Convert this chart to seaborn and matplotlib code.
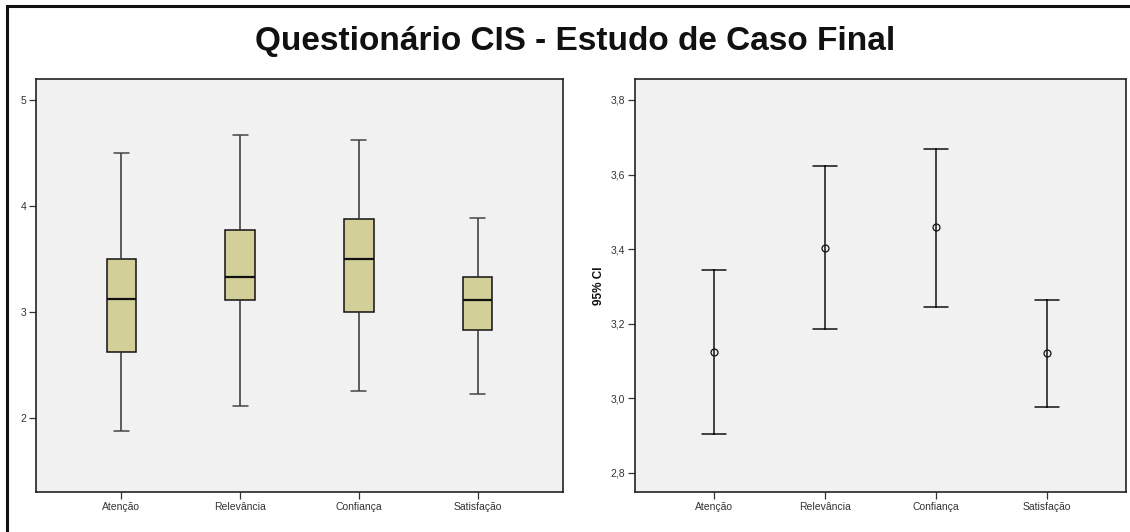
import numpy as np
import pandas as pd
import seaborn as sns
import matplotlib
matplotlib.use("Agg")
import matplotlib.pyplot as plt
from matplotlib.patches import Rectangle
from matplotlib.ticker import FuncFormatter, FixedLocator

# Scales of the questionnaire
categories = ["Atenção", "Relevância", "Confiança", "Satisfação"]

# Box plot summary per scale (min, quartiles, max)
box_min = [1.875, 2.111, 2.250, 2.222]
box_q1 = [2.625, 3.111, 3.000, 2.833]
box_med = [3.125, 3.333, 3.500, 3.111]
box_q3 = [3.500, 3.778, 3.875, 3.333]
box_max = [4.500, 4.667, 4.625, 3.889]

# Mean and 95% confidence interval per scale
ci_mean = [3.124, 3.404, 3.458, 3.121]
ci_low = [2.904, 3.185, 3.246, 2.977]
ci_high = [3.344, 3.622, 3.669, 3.264]

left_ticks = [2, 3, 4, 5]
right_ticks = [2.8, 3.0, 3.2, 3.4, 3.6, 3.8]

sns.set_theme(style="white")
plt.rcParams["font.family"] = ["Liberation Sans", "DejaVu Sans"]

# Five summary points per scale reproduce the quartiles exactly
box_df = pd.DataFrame({
    "escala": np.repeat(categories, 5),
    "valor": np.column_stack([box_min, box_q1, box_med, box_q3, box_max]).ravel(),
})
ci_df = pd.DataFrame({
    "escala": np.repeat(categories, 3),
    "valor": np.column_stack([ci_low, ci_mean, ci_high]).ravel(),
})

W, H = 1130, 532
fig = plt.figure(figsize=(W / 100, H / 100), dpi=100)
fig.patch.set_facecolor("white")

ax1 = fig.add_axes([36 / W, 1 - 492 / H, 527 / W, 413 / H])
ax2 = fig.add_axes([635 / W, 1 - 492 / H, 491 / W, 413 / H])

panel_bg = "#F0F1F0"
spine_col = "#222222"
tick_col = "#333333"

sns.boxplot(
    data=box_df, x="escala", y="valor", order=categories, ax=ax1,
    color="#D3CF98", saturation=1, width=0.25, whis=(0, 100),
    linecolor="#111111", linewidth=1.1,
    medianprops={"linewidth": 1.6, "color": "#111111"},
    whiskerprops={"color": "#333333"}, capprops={"color": "#444444"},
)

sns.pointplot(
    data=ci_df, x="escala", y="valor", order=categories, ax=ax2,
    estimator="median", errorbar=lambda v: (v.min(), v.max()),
    linestyle="none", marker="o", markersize=5,
    markerfacecolor="none", markeredgecolor="#111111", markeredgewidth=0.9,
    color="#111111", capsize=0.22, err_kws={"linewidth": 1.1},
)

comma = FuncFormatter(lambda v, p: f"{v:.1f}".replace(".", ","))

for ax in (ax1, ax2):
    ax.set_facecolor(panel_bg)
    for s in ax.spines.values():
        s.set_visible(True)
        s.set_color(spine_col)
        s.set_linewidth(1.2)
    ax.set_xlabel("")
    ax.set_ylabel("")
    ax.tick_params(axis="both", which="major", direction="out", length=5,
                   width=0.9, color=tick_col, labelsize=7.5,
                   labelcolor="#333333", pad=2, bottom=True, left=True)

ax1.set_xlim(-0.72, 3.72)
ax1.set_ylim(1.30, 5.20)
ax1.yaxis.set_major_locator(FixedLocator(left_ticks))
ax1.set_yticklabels([str(t) for t in left_ticks])

ax2.set_xlim(-0.71, 3.71)
ax2.set_ylim(2.749, 3.856)
ax2.yaxis.set_major_locator(FixedLocator(right_ticks))
ax2.yaxis.set_major_formatter(comma)
ax2.set_ylabel("95% CI", fontsize=8.5, fontweight="bold", color="#111111", labelpad=4)

fig.text(0.509, 0.922, "Questionário CIS - Estudo de Caso Final",
         ha="center", va="center", fontsize=24, fontweight="bold",
         family=["Liberation Sans Narrow", "Liberation Sans", "DejaVu Sans"],
         color="#111111")

# Frame around the whole graphic
fig.add_artist(Rectangle((7 / W, -0.1), 1.2, 0.1 + 1 - 6 / H,
                         transform=fig.transFigure, fill=False,
                         edgecolor="#111111", linewidth=2.2))

fig.savefig("out.png", dpi=100)
